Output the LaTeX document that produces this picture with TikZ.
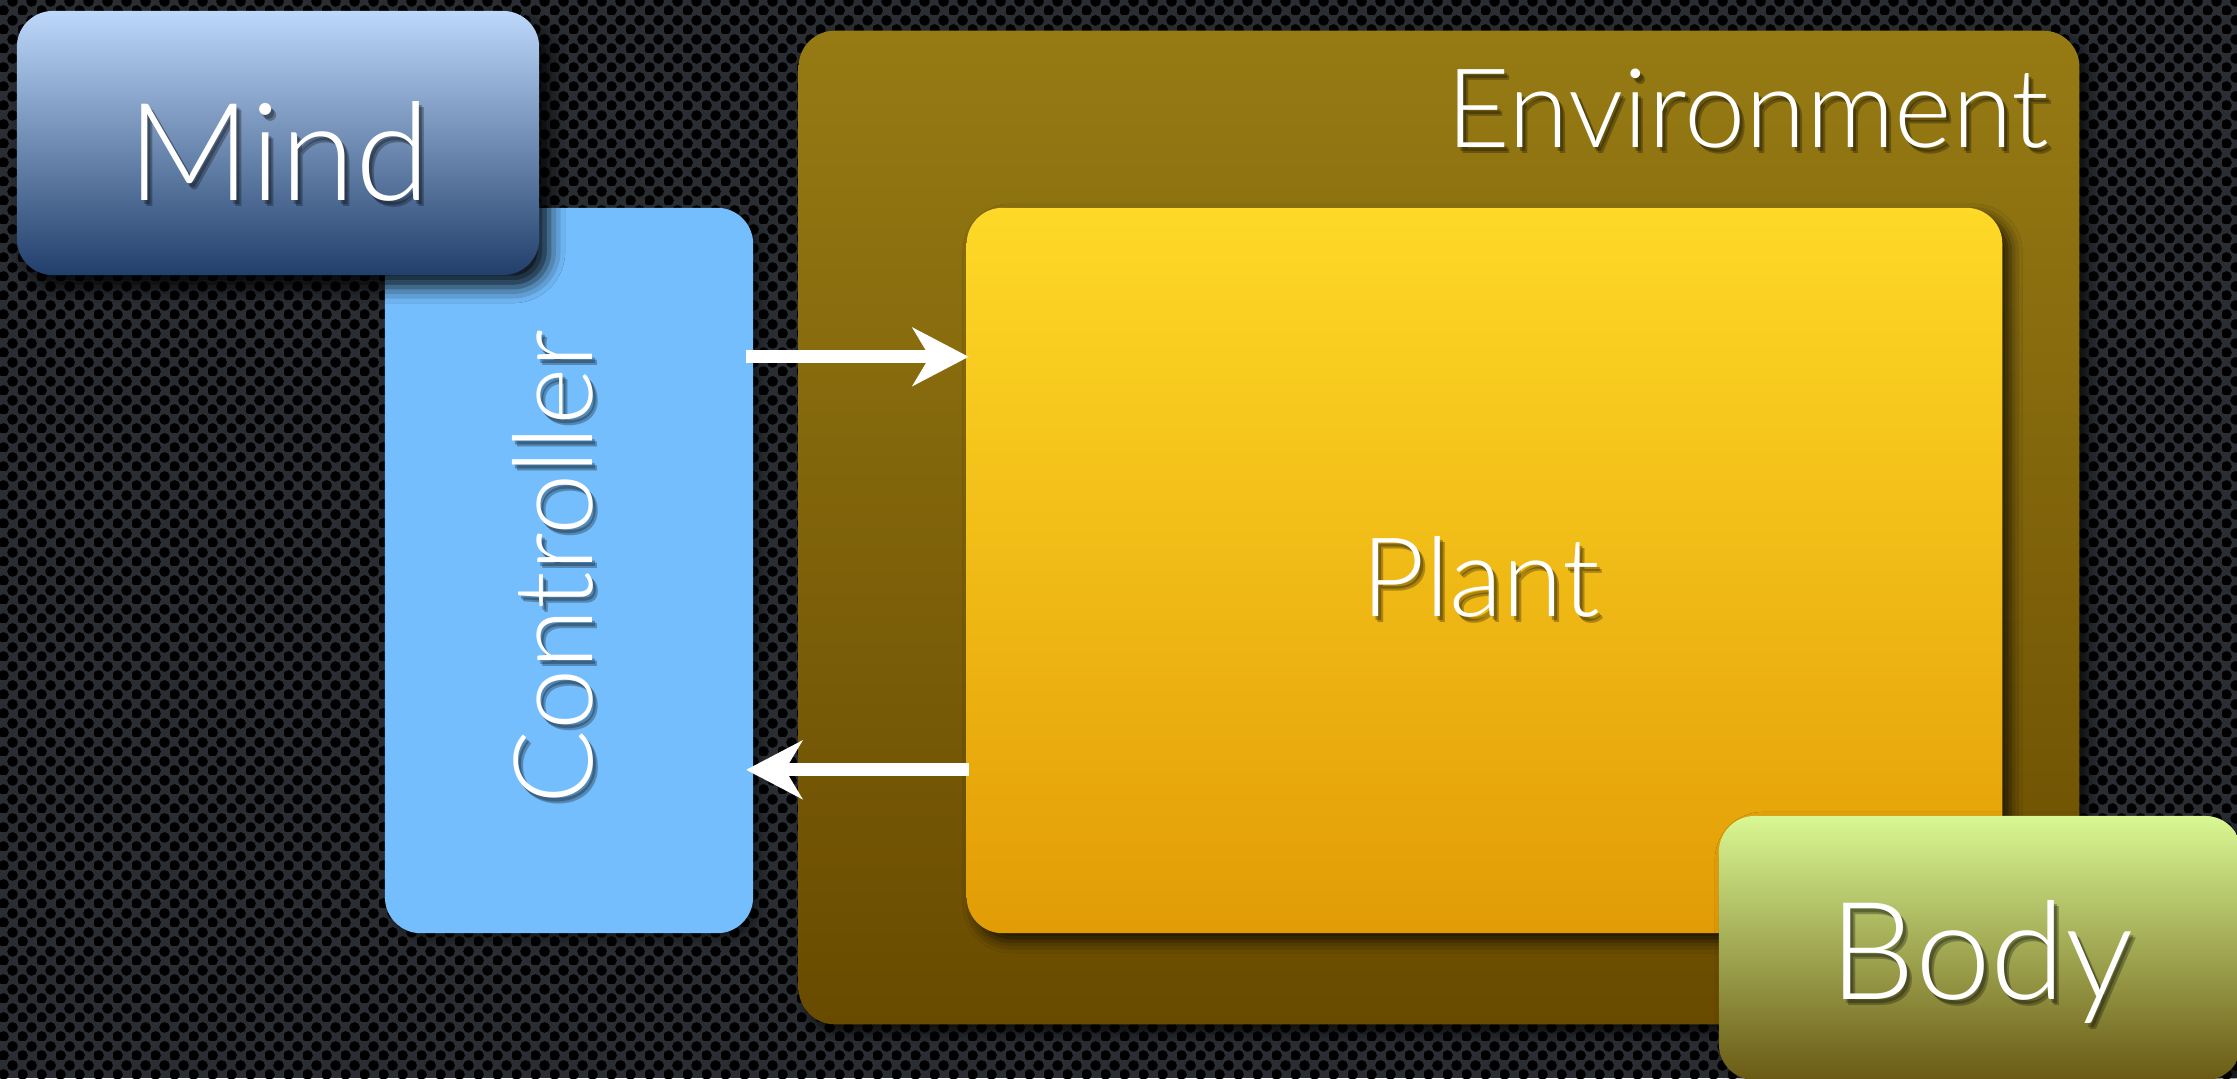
\documentclass[tikz,border=0pt]{standalone}
\usepackage{fontspec}
\IfFontExistsTF{Lato Light}
  {\newfontfamily\lblfont{Lato Light}}
  {\newfontfamily\lblfont{TeX Gyre Heros}}
\usetikzlibrary{arrows.meta,patterns,shadows.blur}

% perforated metal plate: holes on a diagonal grid
\pgfdeclarepatternformonly{perforation}
  {\pgfqpoint{0pt}{0pt}}{\pgfqpoint{5.406pt}{5.406pt}}{\pgfqpoint{5.406pt}{5.406pt}}
  {\pgfpathcircle{\pgfqpoint{1.351pt}{1.351pt}}{1.6pt}
   \pgfpathcircle{\pgfqpoint{4.054pt}{4.054pt}}{1.6pt}
   \pgfusepath{fill}}

\definecolor{plate}{HTML}{2A2E33}
\definecolor{mindtop}{HTML}{BDD8FB}
\definecolor{mindbot}{HTML}{213F6B}
\definecolor{ctrlblue}{HTML}{74BEFD}
\definecolor{envtop}{HTML}{967B14}
\definecolor{envbot}{HTML}{694B00}
\definecolor{planttop}{HTML}{FED927}
\definecolor{plantbot}{HTML}{E29C05}
\definecolor{bodytop}{HTML}{D9F893}
\definecolor{bodybot}{HTML}{6A5A14}

\tikzset{
  box/.style={rectangle, rounded corners=3.6mm, inner sep=0pt, outer sep=0pt},
  lbl/.style={text=white, inner sep=0pt, font=\lblfont\fontsize{31.3}{36}\selectfont},
  biglbl/.style={lbl, font=\lblfont\fontsize{38.7}{44}\selectfont},
  flow/.style={draw=white, line width=1.3mm,
    -{Stealth[length=5.6mm, width=5.8mm, inset=1.7mm]}},
}

% white label with a soft dark drop shadow
\newcommand\softlabel[4][]{%
  \foreach \dx/\dy in {3/4,5/6}
    \node[#1, text=black, opacity=0.28] (#2-sh\dx) at ([shift={(\dx,\dy)}]#3) {#4};
  \node[#1] (#2) at (#3) {#4};}

\begin{document}
\begin{tikzpicture}[x=0.01cm, y=-0.01cm]
  \useasboundingbox (0,0) rectangle (2237,1078);

  % background plate
  \fill[plate] (0,0) rectangle (2237,1078);
  \fill[pattern=perforation, pattern color=black] (0,0) rectangle (2237,1078);

  % environment with the plant inside
  \node[box, minimum width=128mm, minimum height=99.3mm,
        top color=envtop, bottom color=envbot,
        blur shadow={shadow xshift=0.8mm, shadow yshift=-0.8mm,
                     shadow blur radius=1.2mm, shadow opacity=75}]
    (env) at (1439,527.5) {};
  \softlabel[lbl, anchor=base east]{envlabel}{2050,147}{Environment}

  \node[box, minimum width=103.5mm, minimum height=72.5mm,
        top color=planttop, bottom color=plantbot,
        blur shadow={shadow xshift=0.8mm, shadow yshift=-0.8mm,
                     shadow blur radius=1.2mm, shadow opacity=75}]
    (plant) at (1484.5,570.5) {};
  \softlabel[lbl, anchor=base]{plantlabel}{1481,616}{Plant}

  % controller
  \node[box, minimum width=36.8mm, minimum height=72.5mm, fill=ctrlblue,
        blur shadow={shadow xshift=0.6mm, shadow yshift=-0.6mm,
                     shadow blur radius=1mm, shadow opacity=50}]
    (ctrl) at (569,570.5) {};
  \softlabel[lbl, anchor=base, rotate=90]{ctrllabel}{592,567}{Controller}

  % mind
  \node[box, minimum width=52.2mm, minimum height=26.4mm,
        top color=mindtop, bottom color=mindbot,
        blur shadow={shadow xshift=1mm, shadow yshift=-1.2mm,
                     shadow blur radius=1.6mm, shadow opacity=90}]
    (mind) at (278,143) {};
  \softlabel[biglbl, anchor=base]{mindlabel}{279,200}{Mind}

  % body
  \node[box, minimum width=52.2mm, minimum height=26.4mm,
        top color=bodytop, bottom color=bodybot,
        blur shadow={shadow xshift=0.8mm, shadow yshift=-0.8mm,
                     shadow blur radius=1.2mm, shadow opacity=50}]
    (body) at (1980,948) {};
  \softlabel[biglbl, anchor=base]{bodylabel}{1982,999}{Body}

  % signals between controller and plant
  \draw[flow] ([shift={(-7,149)}]ctrl.north east) -- ([shift={(2,149)}]plant.north west);
  \draw[flow] ([shift={(2,562)}]plant.north west) -- ([shift={(-7,562)}]ctrl.north east);
\end{tikzpicture}
\end{document}
